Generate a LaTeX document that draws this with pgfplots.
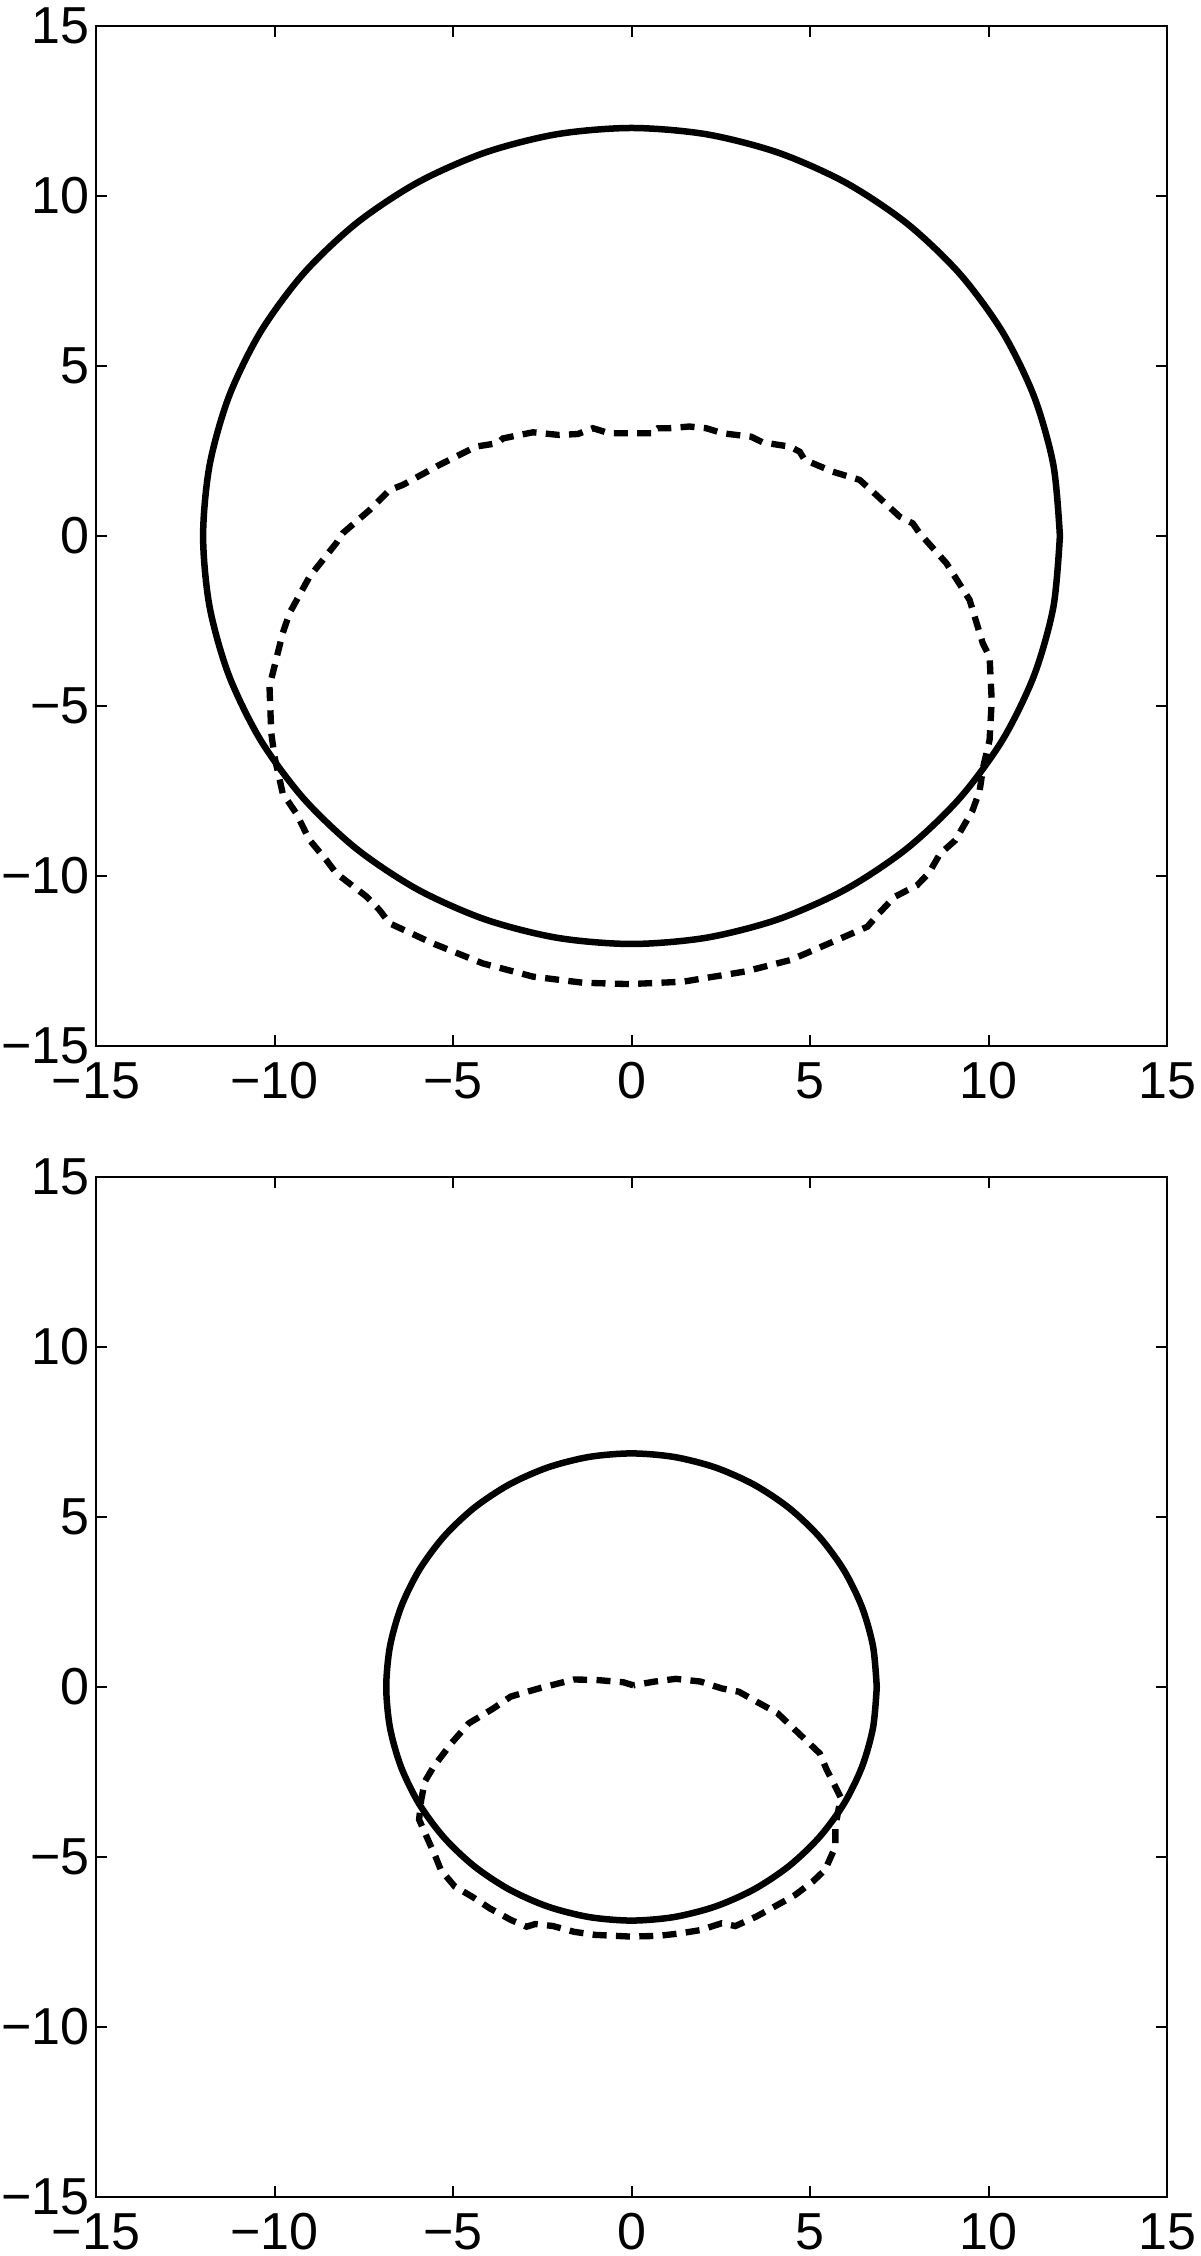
\documentclass[border=0pt]{standalone}
\usepackage{pgfplots}
\pgfplotsset{compat=1.18}
\usepackage{fontspec}
\setmainfont{Liberation Sans}

\pgfplotsset{
  matlab/.style={
    width=321.3pt, height=306pt, scale only axis,
    xmin=-15, xmax=15, ymin=-15, ymax=15,
    xtick={-15,-10,-5,0,5,10,15}, ytick={-15,-10,-5,0,5,10,15},
    xticklabels={−15,−10,−5,0,5,10,15},
    yticklabels={−15,−10,−5,0,5,10,15},
    tick align=inside, major tick length=3.3pt,
    axis line style={line width=0.6pt, black},
    every tick/.style={line width=0.6pt, black},
    ticklabel style={font=\fontsize{15.6}{18}\selectfont},
    xticklabel style={inner sep=0pt, anchor=north, yshift=-4.8pt},
    yticklabel style={inner sep=0pt, anchor=east, xshift=-1.8pt},
    anchor=south west,
  },
  solidc/.style={black, line width=1.95pt, smooth, mark=none},
  dashc/.style={black, line width=1.9pt, dash pattern=on 4.2pt off 2.8pt, mark=none},
}

\begin{document}
\begin{tikzpicture}
\useasboundingbox (0,0) rectangle (360pt,676.8pt);

% ---------- top panel ----------
\begin{axis}[matlab, at={(28.8pt,363pt)}]
\addplot[solidc] coordinates {
(12,0) (11.818,2.084) (11.276,4.104) (10.392,6) (9.193,7.713) (7.713,9.193)
(6,10.392) (4.104,11.276) (2.084,11.818) (0,12)
(-2.084,11.818) (-4.104,11.276) (-6,10.392) (-7.713,9.193) (-9.193,7.713)
(-10.392,6) (-11.276,4.104) (-11.818,2.084) (-12,0)
(-11.818,-2.084) (-11.276,-4.104) (-10.392,-6) (-9.193,-7.713) (-7.713,-9.193)
(-6,-10.392) (-4.104,-11.276) (-2.084,-11.818) (0,-12)
(2.084,-11.818) (4.104,-11.276) (6,-10.392) (7.713,-9.193) (9.193,-7.713)
(10.392,-6) (11.276,-4.104) (11.818,-2.084) (12,0)
};
\addplot[dashc] coordinates {
(0.55,3.02) (-0.62,3.02) (-1.08,3.17) (-1.5,3.0) (-2.02,2.97) (-2.76,3.05)
(-3.6,2.87) (-3.75,2.73) (-4.35,2.63) (-5.38,2.09) (-6.41,1.5) (-6.78,1.35)
(-7.34,0.76) (-8.09,0.08) (-8.27,-0.21) (-9.02,-1.2) (-9.58,-2.27) (-9.77,-2.86)
(-10.05,-4.04) (-10.14,-4.43) (-10.12,-5.0) (-10.09,-5.8) (-10.0,-6.49)
(-9.77,-7.57) (-9.39,-8.16) (-9.02,-8.94) (-8.55,-9.53) (-8.27,-9.92)
(-7.43,-10.6) (-7.06,-11.0) (-6.78,-11.39) (-5.57,-11.98) (-4.17,-12.57)
(-2.76,-12.96) (-1.36,-13.14) (-0.06,-13.18) (1.44,-13.11) (3.18,-12.81)
(4.46,-12.47) (5.96,-11.79) (6.61,-11.49) (6.93,-11.1) (7.36,-10.62)
(8.0,-10.27) (8.32,-9.93) (8.64,-9.35) (9.07,-8.95) (9.55,-8.08) (9.75,-7.5)
(9.85,-6.8) (10.03,-6.0) (10.09,-4.85) (10.03,-3.55) (9.84,-3.16) (9.47,-1.88)
(8.82,-0.8) (8.07,0.08) (7.88,0.37) (7.51,0.57) (6.76,1.3) (6.39,1.65)
(5.64,1.89) (4.85,2.24) (4.71,2.48) (4.43,2.63) (3.68,2.75) (3.35,2.92)
(2.56,3.02) (2.09,3.17) (1.62,3.22) (1.06,3.17) (0.74,3.17) (0.55,3.02)
};
\end{axis}

% ---------- bottom panel ----------
\begin{axis}[matlab, at={(28.8pt,17.7pt)}]
\addplot[solidc] coordinates {
(6.87,0) (6.766,1.193) (6.456,2.350) (5.950,3.435) (5.263,4.416) (4.416,5.263)
(3.435,5.950) (2.350,6.456) (1.193,6.766) (0,6.87)
(-1.193,6.766) (-2.350,6.456) (-3.435,5.950) (-4.416,5.263) (-5.263,4.416)
(-5.950,3.435) (-6.456,2.350) (-6.766,1.193) (-6.87,0)
(-6.766,-1.193) (-6.456,-2.350) (-5.950,-3.435) (-5.263,-4.416) (-4.416,-5.263)
(-3.435,-5.950) (-2.350,-6.456) (-1.193,-6.766) (0,-6.87)
(1.193,-6.766) (2.350,-6.456) (3.435,-5.950) (4.416,-5.263) (5.263,-4.416)
(5.950,-3.435) (6.456,-2.350) (6.766,-1.193) (6.87,0)
};
\addplot[dashc] coordinates {
(0.05,0.05) (-0.23,0.14) (-1.02,0.21) (-1.61,0.22) (-2.59,-0.04) (-3.38,-0.28)
(-3.87,-0.63) (-4.56,-1.07) (-5.05,-1.66) (-5.54,-2.34) (-5.79,-2.78)
(-5.89,-3.32) (-5.95,-3.9) (-5.74,-4.4) (-5.49,-4.99) (-5.34,-5.38)
(-4.95,-5.87) (-4.46,-6.17) (-3.97,-6.51) (-3.38,-6.85) (-2.94,-7.05)
(-2.69,-6.97) (-2.2,-7.03) (-1.61,-7.2) (-1.02,-7.29) (-0.04,-7.34)
(0.75,-7.32) (1.34,-7.25) (1.93,-7.15) (2.52,-6.95) (2.91,-7.03) (3.5,-6.75)
(4.09,-6.41) (4.58,-6.12) (5.08,-5.72) (5.42,-5.38) (5.71,-4.7) (5.71,-4.11)
(5.86,-3.25) (5.66,-2.83) (5.47,-2.44) (5.27,-1.95) (4.88,-1.56) (4.39,-1.07)
(4.09,-0.77) (3.5,-0.43) (3.01,-0.14) (2.52,-0.04) (1.93,0.16) (1.24,0.24)
(0.65,0.16) (0.05,0.05)
};
\end{axis}
\end{tikzpicture}
\end{document}
